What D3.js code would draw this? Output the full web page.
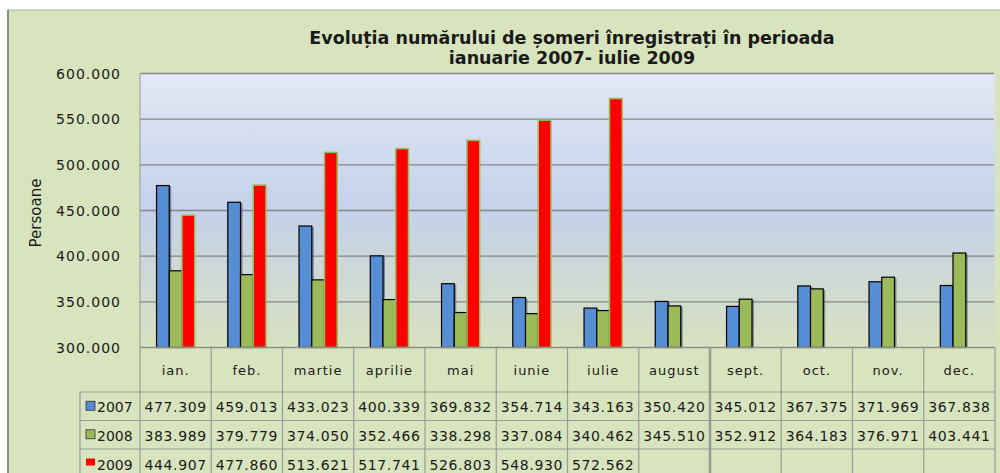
<!DOCTYPE html>
<html>
<head>
<meta charset="UTF-8">
<title>Evolutia numarului de someri</title>
<script src="https://d3js.org/d3.v7.min.js"></script>
<style>
  body { margin: 0; background: #fff; }
  text { font-family: "DejaVu Sans", Verdana, sans-serif; fill: #1a1a1a; }
</style>
</head>
<body>
<div id="chart"></div>
<script>
// data
let months = ["ian.", "feb.", "martie", "aprilie", "mai", "iunie", "iulie",
              "august", "sept.", "oct.", "nov.", "dec."];
let years = ["2007", "2008", "2009"];
let v2007 = [477309, 459013, 433023, 400339, 369832, 354714, 343163, 350420, 345012, 367375, 371969, 367838];
let v2008 = [383989, 379779, 374050, 352466, 338298, 337084, 340462, 345510, 352912, 364183, 376971, 403441];
let v2009 = [444907, 477860, 513621, 517741, 526803, 548930, 572562, null, null, null, null, null];
let yTicks = [300000, 350000, 400000, 450000, 500000, 550000, 600000];
let colors = ["#558ed5", "#9bbb59", "#ff0000"];

let series = [v2007, v2008, v2009];

let ro = d3.formatLocale({ decimal: ",", thousands: ".", grouping: [3], currency: ["", ""] });
let fmt = ro.format(",d");

let width = 1000, height = 473;
let plotL = 140, plotR = 995, plotT = 73.5, plotB = 347.5;

let svg = d3.select("#chart")
            .append("svg")
            .attr("width", width)
            .attr("height", height);

// outer panel
svg.append("rect")
   .attr("x", 8).attr("y", 10)
   .attr("width", 1000).attr("height", 480)
   .attr("fill", "#d8e4bd")
   .attr("stroke", "#b0b0b0");
svg.append("line")
   .attr("x1", 8).attr("x2", 8).attr("y1", 10).attr("y2", 473)
   .attr("stroke", "#8c8c8c").attr("stroke-width", 2);

// plot background gradient
let grad = svg.append("defs").append("linearGradient")
              .attr("id", "bg").attr("x1", 0).attr("x2", 0).attr("y1", 0).attr("y2", 1);
grad.append("stop").attr("offset", "0%").attr("stop-color", "#e2e8f5");
grad.append("stop").attr("offset", "50%").attr("stop-color", "#c4d1ea");
grad.append("stop").attr("offset", "100%").attr("stop-color", "#d8e1c0");

svg.append("rect")
   .attr("x", plotL).attr("y", plotT)
   .attr("width", plotR - plotL).attr("height", plotB - plotT)
   .attr("fill", "url(#bg)");

// scales
let x = d3.scaleBand().domain(months).range([plotL, plotR]).padding(0);
let xs = d3.scaleBand().domain(years).range([0, x.bandwidth()]).paddingInner(0).paddingOuter(1.3);
let y = d3.scaleLinear().domain([300000, 600000]).range([plotB, plotT]);

// gridlines
svg.append("g")
   .selectAll("line")
   .data(yTicks.slice(1))
   .join("line")
   .attr("x1", plotL).attr("x2", plotR - 1)
   .attr("y1", d => y(d)).attr("y2", d => y(d))
   .attr("stroke", "#868686").attr("stroke-width", 1.3);

// y axis labels
svg.append("g")
   .selectAll("text")
   .data(yTicks)
   .join("text")
   .attr("x", 121)
   .attr("y", d => y(d) + 5)
   .attr("text-anchor", "end")
   .attr("font-size", 14)
   .attr("letter-spacing", 1)
   .text(d => fmt(d));

svg.append("text")
   .attr("transform", "translate(41,213) rotate(-90)")
   .attr("text-anchor", "middle")
   .attr("font-size", 15)
   .text("Persoane");

// bars
series.forEach((vals, si) => {
  let g = svg.append("g");
  let pts = months.map((m, i) => ({ m: m, v: vals[i] })).filter(d => d.v != null);
  if (si < 2) {
    // small dark shadow on the right
    g.selectAll("rect.sh")
     .data(pts)
     .join("rect")
     .attr("class", "sh")
     .attr("x", d => x(d.m) + xs(years[si]) + 2)
     .attr("y", d => y(d.v) + 1)
     .attr("width", xs.bandwidth())
     .attr("height", d => plotB - y(d.v) - 1)
     .attr("fill", "#3a4a5c").attr("opacity", 0.55);
  }
  g.selectAll("rect.bar")
   .data(pts)
   .join("rect")
   .attr("class", "bar")
   .attr("x", d => x(d.m) + xs(years[si]))
   .attr("y", d => y(d.v))
   .attr("width", xs.bandwidth())
   .attr("height", d => plotB - y(d.v))
   .attr("fill", colors[si])
   .attr("stroke", si < 2 ? "#000" : "#9bbb59")
   .attr("stroke-width", si < 2 ? 1.2 : 1.5);
});

// plot frame lines
svg.append("line").attr("x1", plotL).attr("x2", plotL).attr("y1", plotT).attr("y2", plotB)
   .attr("stroke", "#9a9a9a");
svg.append("line").attr("x1", plotL).attr("x2", plotR).attr("y1", plotB).attr("y2", plotB)
   .attr("stroke", "#8c8c8c").attr("stroke-width", 1.5);

// data table
let rowTop = [347.5, 392, 420.5, 449, 478];
let legendLeft = 80;
let tbl = svg.append("g").attr("stroke", "#9a9a9a").attr("stroke-width", 1.2);

// vertical lines
tbl.selectAll("line.v")
   .data(months.concat(["end"]))
   .join("line")
   .attr("class", "v")
   .attr("x1", (d, i) => plotL + i * x.step())
   .attr("x2", (d, i) => plotL + i * x.step())
   .attr("y1", plotB).attr("y2", height)
   .attr("stroke-width", (d, i) => i === 8 ? 2.5 : 1.2);
tbl.append("line")
   .attr("x1", legendLeft).attr("x2", legendLeft)
   .attr("y1", rowTop[1]).attr("y2", height);
// horizontal lines
tbl.selectAll("line.h")
   .data(rowTop.slice(1, 4))
   .join("line")
   .attr("class", "h")
   .attr("x1", legendLeft).attr("x2", plotR)
   .attr("y1", d => d).attr("y2", d => d);

// header labels
svg.append("g")
   .selectAll("text")
   .data(months)
   .join("text")
   .attr("x", d => x(d) + x.bandwidth() / 2)
   .attr("y", 375)
   .attr("text-anchor", "middle")
   .attr("font-size", 13)
   .attr("letter-spacing", 1)
   .text(d => d);

// legend keys + values
series.forEach((vals, si) => {
  let cy = (rowTop[si + 1] + rowTop[si + 2]) / 2;
  svg.append("rect")
     .attr("x", 86).attr("y", cy - 5)
     .attr("width", 9).attr("height", si === 2 ? 7 : 9)
     .attr("fill", colors[si])
     .attr("stroke", si === 2 ? "none" : "#333").attr("stroke-width", 0.8);
  svg.append("text")
     .attr("x", 97).attr("y", cy + 6)
     .attr("font-size", 14)
     .text(years[si]);
  svg.append("g")
     .selectAll("text")
     .data(months.map((m, i) => ({ m: m, v: vals[i] })).filter(d => d.v != null))
     .join("text")
     .attr("x", d => x(d.m) + x.bandwidth() / 2)
     .attr("y", cy + 6)
     .attr("text-anchor", "middle")
     .attr("font-size", 14)
     .attr("letter-spacing", 0.6)
     .text(d => fmt(d.v));
});

// title
let title = svg.append("text")
   .attr("text-anchor", "middle")
   .attr("font-size", 17.5)
   .attr("font-weight", "bold");
title.append("tspan").attr("x", 572).attr("y", 44)
     .text("Evoluția numărului de șomeri înregistrați în perioada");
title.append("tspan").attr("x", 572).attr("y", 64)
     .text("ianuarie 2007- iulie 2009");
</script>
</body>
</html>
